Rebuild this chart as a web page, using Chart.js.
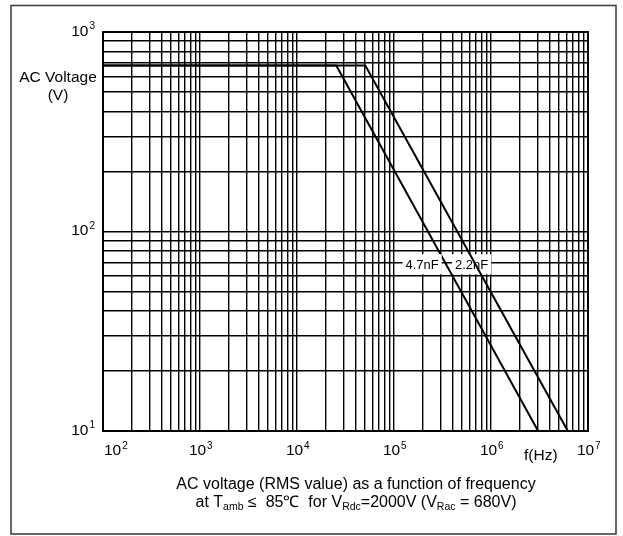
<!DOCTYPE html>
<html>
<head>
<meta charset="utf-8">
<script src="https://cdn.jsdelivr.net/npm/chart.js@4.4.1/dist/chart.umd.min.js"></script>
<style>
  html, body { margin: 0; padding: 0; background: #fff; }
  canvas { display: block; }
</style>
</head>
<body>
<canvas id="c" width="623" height="536"></canvas>
<script>
// Permissible AC voltage (RMS) versus frequency for two capacitance values
const seriesNames = ['4.7nF', '2.2nF'];
const freq47 = [100, 25400, 3.06e6];
const volt47 = [680, 680, 10];
const freq22 = [100, 50600, 6.19e6];
const volt22 = [680, 680, 10];

// Axis decades (labels are drawn as 10 with a superscript exponent)
const xDecadeExponents = [2, 3, 4, 5, 6, 7];
const yDecadeExponents = [1, 2, 3];
const gridMantissas = [1, 2, 3, 4, 5, 6, 7, 8, 9];

const xTitle = 'f(Hz)';
const yTitle = ['AC Voltage', '(V)'];
const captionLine1 = 'AC voltage (RMS value) as a function of frequency';
// [text, isSubscript]
const captionLine2 = [
  ['at T', false], ['amb', true], [' \u2264  85\u2103  for V', false],
  ['Rdc', true], ['=2000V (V', false], ['Rac', true], [' = 680V)', false]
];

const FONT = '"Liberation Sans", Arial, Helvetica, sans-serif';

function toPoints(xs, ys) {
  return xs.map((x, i) => ({ x: x, y: ys[i] }));
}

// One gridline per mantissa in every decade, plus the closing decade
function logGridTicks(exps) {
  const lo = Math.min(...exps), hi = Math.max(...exps);
  const ticks = [];
  for (let e = lo; e < hi; e++) {
    gridMantissas.forEach(m => ticks.push({ value: m * Math.pow(10, e) }));
  }
  ticks.push({ value: Math.pow(10, hi) });
  return ticks;
}

function drawPower(ctx, x, y, exp, align) {
  ctx.font = '15.5px ' + FONT;
  const wBase = ctx.measureText('10').width;
  ctx.font = '10px ' + FONT;
  const wExp = ctx.measureText(String(exp)).width;
  const total = wBase + 1 + wExp;
  let left = x;
  if (align === 'right') left = x - total;
  else if (align === 'center') left = x - total / 2;
  ctx.textAlign = 'left';
  ctx.textBaseline = 'alphabetic';
  ctx.font = '15.5px ' + FONT;
  ctx.fillText('10', left, y);
  ctx.font = '10px ' + FONT;
  ctx.fillText(String(exp), left + wBase + 1, y - 6.5);
  return left;
}

function drawTag(chart, tag) {
  const ctx = chart.ctx;
  const px = chart.scales.x.getPixelForValue(tag.at[0]);
  const py = chart.scales.y.getPixelForValue(tag.at[1]);
  ctx.save();
  ctx.font = '13px ' + FONT;
  const w = ctx.measureText(tag.text).width;
  ctx.fillStyle = '#fff';
  ctx.fillRect(px - w / 2 - 3, py - 10, w + 6, 20);
  ctx.fillStyle = '#000';
  ctx.textAlign = 'center';
  ctx.textBaseline = 'middle';
  ctx.fillText(tag.text, px, py + 1);
  ctx.restore();
}

const annotationPlugin = {
  id: 'chartText',
  beforeDraw(chart) {
    const ctx = chart.ctx;
    ctx.save();
    ctx.fillStyle = '#fff';
    ctx.fillRect(0, 0, chart.width, chart.height);
    ctx.restore();
  },
  beforeDatasetsDraw(chart, args, opts) {
    // 2.2nF tag sits under its curve
    drawTag(chart, opts.tags[1]);
  },
  afterDatasetsDraw(chart, args, opts) {
    // 4.7nF tag is drawn over its curve
    drawTag(chart, opts.tags[0]);
  },
  afterDraw(chart) {
    const ctx = chart.ctx;
    const a = chart.chartArea;
    const xs = chart.scales.x, ys = chart.scales.y;
    ctx.save();
    ctx.fillStyle = '#000';

    // plot frame
    ctx.strokeStyle = '#000';
    ctx.lineWidth = 2;
    ctx.strokeRect(a.left, a.top, a.right - a.left, a.bottom - a.top);

    // outer frame
    ctx.strokeStyle = '#444';
    ctx.lineWidth = 1.6;
    ctx.strokeRect(11, 5.5, 605, 528.5);

    // y decade labels
    yDecadeExponents.forEach(e => {
      const py = ys.getPixelForValue(Math.pow(10, e));
      drawPower(ctx, 95, py + 3.5, e, 'right');
    });
    // x decade labels
    xDecadeExponents.forEach(e => {
      const px = xs.getPixelForValue(Math.pow(10, e));
      ctx.font = '15.5px ' + FONT;
      const w = ctx.measureText('10').width + 1 + 6;
      const left = Math.max(a.left + 1, px + 1 - w / 2);
      drawPower(ctx, left, a.bottom + 24, e, 'left');
    });

    // axis titles
    ctx.font = '15.5px ' + FONT;
    ctx.textAlign = 'center';
    ctx.textBaseline = 'alphabetic';
    ctx.fillText(yTitle[0], 58, 82);
    ctx.fillText(yTitle[1], 58, 99.5);
    ctx.textAlign = 'left';
    ctx.fillText(xTitle, 524, 460);

    // caption
    ctx.font = '16px ' + FONT;
    ctx.textAlign = 'center';
    ctx.fillText(captionLine1, 356, 489);

    const mainFont = '16px ' + FONT, subFont = '10.5px ' + FONT;
    let total = 0;
    captionLine2.forEach(([t, sub]) => {
      ctx.font = sub ? subFont : mainFont;
      total += ctx.measureText(t).width;
    });
    let cx = 356 - total / 2;
    ctx.textAlign = 'left';
    captionLine2.forEach(([t, sub]) => {
      ctx.font = sub ? subFont : mainFont;
      ctx.fillText(t, cx, sub ? 510 : 507);
      cx += ctx.measureText(t).width;
    });
    ctx.restore();
  }
};

const lineStyle = {
  borderColor: '#000',
  borderWidth: 2,
  pointRadius: 0,
  fill: false,
  tension: 0
};

new Chart(document.getElementById('c'), {
  type: 'line',
  data: {
    datasets: [
      Object.assign({ label: seriesNames[0], data: toPoints(freq47, volt47) }, lineStyle),
      Object.assign({ label: seriesNames[1], data: toPoints(freq22, volt22) }, lineStyle)
    ]
  },
  options: {
    responsive: false,
    animation: false,
    devicePixelRatio: 1,
    layout: { padding: { left: 103, top: 32, right: 35, bottom: 105 } },
    plugins: {
      legend: { display: false },
      tooltip: { enabled: false },
      chartText: {
        tags: [
          { text: seriesNames[0], at: [1.95e5, 68.5] },
          { text: seriesNames[1], at: [6.3e5, 68.5] }
        ]
      }
    },
    scales: {
      x: {
        type: 'logarithmic',
        min: Math.pow(10, Math.min(...xDecadeExponents)),
        max: Math.pow(10, Math.max(...xDecadeExponents)),
        afterBuildTicks: s => { s.ticks = logGridTicks(xDecadeExponents); },
        afterFit: s => { s.height = 0; },
        ticks: { display: false },
        grid: { color: '#000', lineWidth: 1.4, drawTicks: false },
        border: { display: true, color: '#000', width: 2 }
      },
      y: {
        type: 'logarithmic',
        min: Math.pow(10, Math.min(...yDecadeExponents)),
        max: Math.pow(10, Math.max(...yDecadeExponents)),
        afterBuildTicks: s => { s.ticks = logGridTicks(yDecadeExponents); },
        afterFit: s => { s.width = 0; },
        ticks: { display: false },
        grid: { color: '#000', lineWidth: 1.4, drawTicks: false },
        border: { display: true, color: '#000', width: 2 }
      }
    }
  },
  plugins: [annotationPlugin]
});
</script>
</body>
</html>
